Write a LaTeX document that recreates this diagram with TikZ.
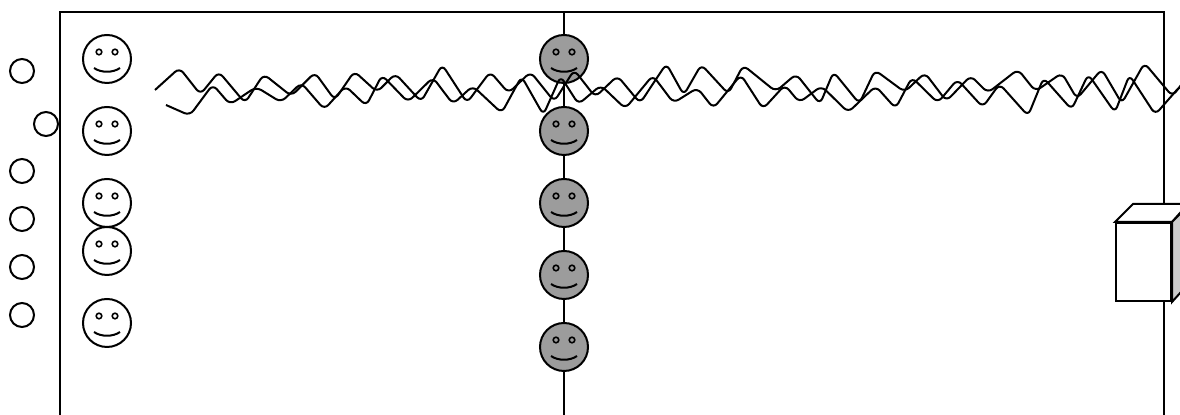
\documentclass[tikz,border=0pt]{standalone}
\begin{document}
\begin{tikzpicture}[x=0.5pt,y=-0.5pt,line width=1pt,
  face/.style={circle,draw,minimum size=24pt,inner sep=0pt,fill=white},
  gface/.style={face,fill=gray!78},
  dot/.style={circle,draw,minimum size=12pt,inner sep=0pt},
  wiggle/.style={rounded corners=3pt,line join=round}]
\useasboundingbox (0,0) rectangle (1180,415);
\clip (0,0) rectangle (1180,415);
% frame and centre line
\coordinate (fbl) at (60,430);
\coordinate (ftl) at (60,12);
\coordinate (ftr) at (1164,12);
\coordinate (fbr) at (1164,430);
\coordinate (mt) at (564,12);
\coordinate (mb) at (564,430);
\draw (fbl) -- (ftl) -- (ftr) -- (fbr);
\draw (mt) -- (mb);
% small circles
\node[dot] (c1) at (22,71) {};
\node[dot] (c2) at (46,124) {};
\node[dot] (c3) at (22,171) {};
\node[dot] (c4) at (22,219) {};
\node[dot] (c5) at (22,267) {};
\node[dot] (c6) at (22,315) {};
% open faces
\node[face] (s1) at (107,59) {};
\node[face] (s2) at (107,131) {};
\node[face] (s3) at (107,203) {};
\node[face] (s4) at (107,251) {};
\node[face] (s5) at (107,323) {};
% grey faces
\node[gface] (g1) at (564,59) {};
\node[gface] (g2) at (564,131) {};
\node[gface] (g3) at (564,203) {};
\node[gface] (g4) at (564,275) {};
\node[gface] (g5) at (564,347) {};
\foreach \n in {s1,s2,s3,s4,s5,g1,g2,g3,g4,g5}{
  \draw[shift={(\n.center)},line width=0.8pt] (-8,-7) circle[radius=1.4pt] (8,-7) circle[radius=1.4pt];
  \draw[shift={(\n.center)}] (-13,9) .. controls (-6,14) and (6,14) .. (13,9);
}
% wiggly lines
\coordinate (w1a) at (155,90);
\coordinate (w2a) at (166,105);
\pgfmathsetseed{11}
\draw[wiggle] (w1a) \foreach \i in {1,...,48}{ -- ({155+\i*22+6*rand},{84+14*cos(180*\i)+7*rand}) };
\pgfmathsetseed{29}
\draw[wiggle] (w2a) \foreach \i in {1,...,48}{ -- ({166+\i*22+6*rand},{95-14*cos(180*\i)+7*rand}) };
% cube
\node[draw,fill=white,minimum width=27.5pt,minimum height=39pt,inner sep=0pt,anchor=north west] (cube) at (1115,222) {};
\draw[fill=white] (cube.north west) -- ++(18,-18) -- ++(55,0) -- (cube.north east) -- cycle;
\draw[fill=gray!40] (cube.north east) -- ++(18,-18) -- ++(0,78) -- (cube.south east) -- cycle;
\end{tikzpicture}
\end{document}
